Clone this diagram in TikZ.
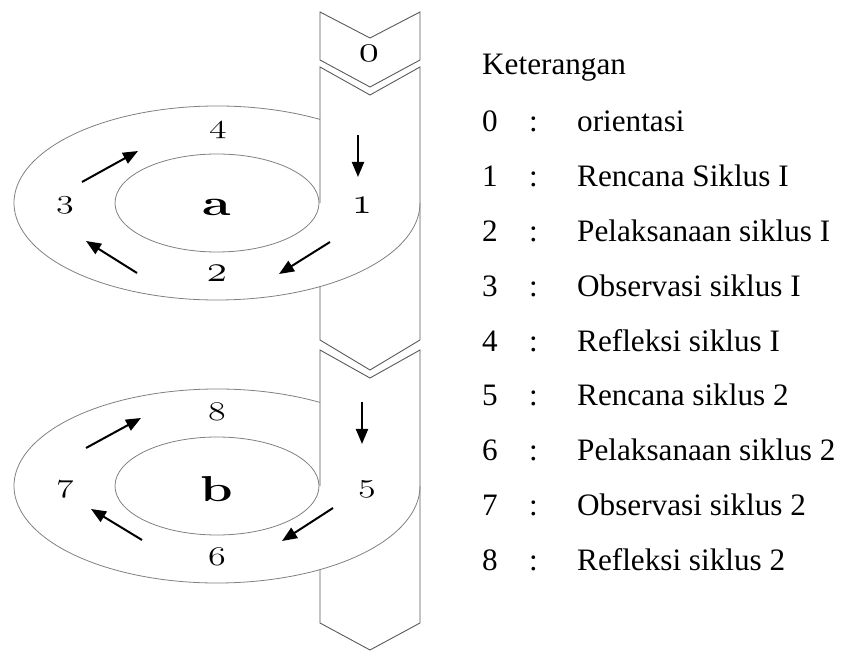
\documentclass[tikz,border=0pt]{standalone}
\usepackage{fontspec}
\newfontfamily\legendfont{Liberation Serif}
\usetikzlibrary{arrows.meta}
\tikzset{
  col/.style={draw=black!65, line width=0.9pt},
  ring/.style={draw=black!50, line width=0.8pt},
  flow/.style={line width=2pt, -{Triangle[length=15pt,width=12pt]}},
  num/.style={inner sep=0pt, font=\fontsize{30}{30}\selectfont},
  lett/.style={inner sep=0pt, font=\fontsize{36}{36}\selectfont},
  leg/.style={inner sep=0pt, anchor=base west, font=\legendfont\fontsize{31.2}{31.2}\selectfont}
}
% short old-style digits (0,1,2) and tall ones (3-8)
\newcommand{\osn}[1]{\scalebox{1.65}[1.5]{$\mathnormal{#1}$}}
\newcommand{\osnt}[1]{\scalebox{1.45}[1.08]{$\mathnormal{#1}$}}
\newcommand{\ringletter}[1]{\scalebox{1.45}[1.0]{\bfseries #1}}
\begin{document}
\begin{tikzpicture}[x=1pt,y=1pt]
\useasboundingbox (0,0) rectangle (843,651);
% ---------- column ----------
\draw[col] (320,591) -- (320,639) -- (370,613) -- (420,639) -- (420,591) -- (370,564) -- cycle;
\draw[col] (320,448) -- (320,584) -- (370,556) -- (420,584) -- (420,311);
\draw[col] (320,364) -- (320,311) -- (370,281) -- (420,311);
\draw[col] (320,165) -- (320,301) -- (370,273) -- (420,301) -- (420,28);
\draw[col] (320,82) -- (320,28) -- (370,1) -- (420,28);
% ---------- ring a ----------
\draw[ring] (217,448) ellipse [x radius=102, y radius=49];
\draw[ring] (217,448) ++(59.5:203 and 97) arc[start angle=59.5, end angle=360, x radius=203, y radius=97];
% ---------- ring b ----------
\draw[ring] (217,165) ellipse [x radius=102, y radius=49];
\draw[ring] (217,165) ++(59.5:203 and 97) arc[start angle=59.5, end angle=360, x radius=203, y radius=97];
% ---------- labels ----------
\node[num] (n0) at (369,598) {\osn{0}};
\node[num] (n4) at (218,521) {\osnt{4}};
\node[num] (n3) at (65,446) {\osnt{3}};
\node[lett] (na) at (217,444) {\ringletter{a}};
\node[num] (n1) at (362,446) {\osn{1}};
\node[num] (n2) at (217,378) {\osn{2}};
\node[num] (n8) at (217,239) {\osnt{8}};
\node[num] (n7) at (65,162) {\osnt{7}};
\node[lett] (nb) at (217,162) {\ringletter{b}};
\node[num] (n5) at (367,162) {\osnt{5}};
\node[num] (n6) at (217,94) {\osnt{6}};
% ---------- arrows ----------
\coordinate (a1s) at (358,516); \coordinate (a1e) at (358,474);
\coordinate (a2s) at (330,409); \coordinate (a2e) at (279,377);
\coordinate (a3s) at (137,378); \coordinate (a3e) at (86,410);
\coordinate (a4s) at (82,469);  \coordinate (a4e) at (138,500);
\coordinate (b1s) at (362,249); \coordinate (b1e) at (362,207);
\coordinate (b2s) at (333,143); \coordinate (b2e) at (282,110);
\coordinate (b3s) at (142,111); \coordinate (b3e) at (91,142);
\coordinate (b4s) at (86,203);  \coordinate (b4e) at (141,233);
\foreach \p in {a1,a2,a3,a4,b1,b2,b3,b4} \draw[flow] (\p s) -- (\p e);
% ---------- legend ----------
\node[leg] (kt) at (482,576) {Keterangan};
\foreach \k/\d/\t in {0/0/orientasi,1/1/Rencana Siklus I,2/2/Pelaksanaan siklus I,3/3/Observasi siklus I,4/4/Refleksi siklus I,5/5/Rencana siklus 2,6/6/Pelaksanaan siklus 2,7/7/Observasi siklus 2,8/8/Refleksi siklus 2}{
  \node[leg] (ld\k) at (482,519-54.8*\k) {\d};
  \node[leg] (lc\k) at (529,519-54.8*\k) {:};
  \node[leg] (lt\k) at (577,519-54.8*\k) {\t};
}
\end{tikzpicture}
\end{document}
